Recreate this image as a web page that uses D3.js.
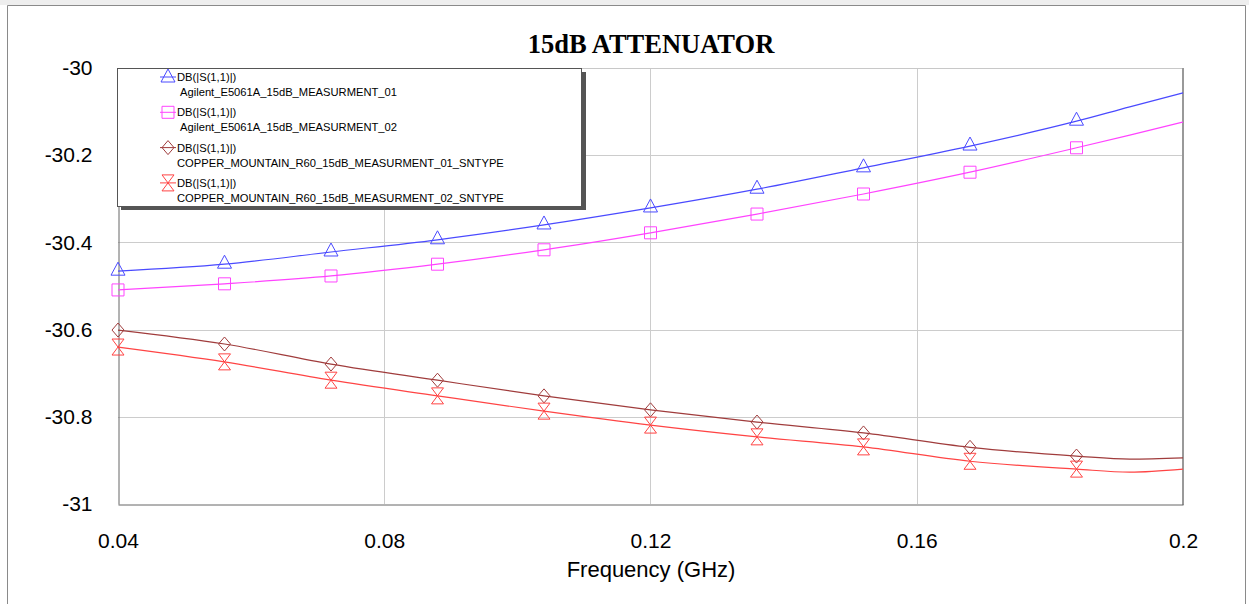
<!DOCTYPE html>
<html>
<head>
<meta charset="utf-8">
<script src="https://cdn.jsdelivr.net/npm/d3@7"></script>
<style>
  body { margin: 0; background: #fff; }
  svg { display: block; }
</style>
</head>
<body>
<div id="chart"></div>
<script>
// data (GHz / dB)
const freq = [0.04, 0.056, 0.072, 0.088, 0.104, 0.12, 0.136, 0.152, 0.168, 0.184, 0.192, 0.2];
const markerFreq = [0.04, 0.056, 0.072, 0.088, 0.104, 0.12, 0.136, 0.152, 0.168, 0.184];

const agilent01 = [-30.466, -30.450, -30.422, -30.394, -30.360, -30.321, -30.278, -30.229, -30.179, -30.122, -30.089, -30.057];
const agilent02 = [-30.509, -30.495, -30.477, -30.450, -30.417, -30.378, -30.335, -30.289, -30.239, -30.183, -30.154, -30.124];
const copper01  = [-30.601, -30.633, -30.679, -30.716, -30.752, -30.784, -30.812, -30.837, -30.870, -30.890, -30.897, -30.894];
const copper02  = [-30.640, -30.674, -30.716, -30.752, -30.787, -30.819, -30.846, -30.869, -30.902, -30.920, -30.927, -30.920];

const xTicks = [0.04, 0.08, 0.12, 0.16, 0.2];
const yTicks = [-30, -30.2, -30.4, -30.6, -30.8, -31];

const seriesNames = [
  'Agilent_E5061A_15dB_MEASURMENT_01',
  'Agilent_E5061A_15dB_MEASURMENT_02',
  'COPPER_MOUNTAIN_R60_15dB_MEASURMENT_01_SNTYPE',
  'COPPER_MOUNTAIN_R60_15dB_MEASURMENT_02_SNTYPE'
];

const series = [
  { name: seriesNames[0], values: agilent01, color: '#4a4aff', marker: 'triangle', indent: 3 },
  { name: seriesNames[1], values: agilent02, color: '#ff44ff', marker: 'square', indent: 3 },
  { name: seriesNames[2], values: copper01,  color: '#a03c3c', marker: 'diamond', indent: 0 },
  { name: seriesNames[3], values: copper02,  color: '#ff4444', marker: 'hourglass', indent: 0 }
];

const W = 1249, H = 604;
const plot = { left: 118, right: 1183, top: 68, bottom: 504 };
const sansFont = 'Liberation Sans, Arial, sans-serif';

const svg = d3.select('#chart').append('svg')
  .attr('width', W).attr('height', H);

// page frame
svg.append('rect').attr('x', 0).attr('y', 0).attr('width', W).attr('height', 5).attr('fill', '#eeeeee');
svg.append('path')
  .attr('d', `M7.5,${H} V5.5 H1245.5 V${H}`)
  .attr('fill', 'none').attr('stroke', '#8a8a8a').attr('stroke-width', 1);

const x = d3.scaleLinear().domain([0.04, 0.2]).range([plot.left, plot.right]);
const y = d3.scaleLinear().domain([-31, -30]).range([plot.bottom, plot.top]);

// grid
svg.append('g')
  .selectAll('line')
  .data(xTicks.slice(1, -1))
  .enter().append('line')
  .attr('x1', d => Math.round(x(d)) + 0.5).attr('x2', d => Math.round(x(d)) + 0.5)
  .attr('y1', plot.top).attr('y2', plot.bottom)
  .attr('stroke', '#cccccc');

svg.append('g')
  .selectAll('line')
  .data(yTicks.slice(1, -1))
  .enter().append('line')
  .attr('x1', plot.left).attr('x2', plot.right)
  .attr('y1', d => Math.round(y(d)) + 0.5).attr('y2', d => Math.round(y(d)) + 0.5)
  .attr('stroke', '#cccccc');

// plot frame
svg.append('line').attr('x1', plot.left).attr('x2', plot.right)
  .attr('y1', plot.top + 0.5).attr('y2', plot.top + 0.5).attr('stroke', '#c8c8c8');
svg.append('line').attr('x1', plot.right).attr('x2', plot.right)
  .attr('y1', plot.top).attr('y2', plot.bottom + 1).attr('stroke', '#999999').attr('stroke-width', 2);

// axes (plain hyphen for negatives, like the original)
const fmt = v => String(+v.toFixed(2));
const xAxis = svg.append('g')
  .attr('transform', `translate(0,${plot.bottom + 0.5})`)
  .call(d3.axisBottom(x).tickValues(xTicks).tickSize(0).tickPadding(25).tickFormat(fmt));
const yAxis = svg.append('g')
  .attr('transform', `translate(${plot.left + 0.5},0)`)
  .call(d3.axisLeft(y).tickValues(yTicks).tickSize(0).tickPadding(26).tickFormat(fmt));

svg.selectAll('.domain').attr('stroke', '#666666').attr('stroke-width', 1);
svg.selectAll('.tick text')
  .attr('fill', '#000')
  .style('font-family', sansFont)
  .style('font-size', '21px');
xAxis.selectAll('.tick text').attr('dy', '0.9em');

// lines
const line = d3.line()
  .x((d, i) => x(freq[i]))
  .y(d => y(d))
  .curve(d3.curveMonotoneX);

series.forEach(s => {
  svg.append('path')
    .datum(s.values)
    .attr('d', line)
    .attr('fill', 'none')
    .attr('stroke', s.color)
    .attr('stroke-width', 1.2);
});

// marker shapes
function markerPath(type, cx, cy) {
  switch (type) {
    case 'triangle':
      return `M${cx},${cy - 9} L${cx + 7},${cy + 4} L${cx - 7},${cy + 4} Z`;
    case 'square':
      return `M${cx - 6},${cy - 6} H${cx + 6} V${cy + 6} H${cx - 6} Z`;
    case 'diamond':
      return `M${cx},${cy - 7} L${cx + 6},${cy} L${cx},${cy + 7} L${cx - 6},${cy} Z`;
    case 'hourglass':
      return `M${cx - 6},${cy - 8} H${cx + 6} L${cx - 6},${cy + 8} H${cx + 6} Z`;
  }
}

series.forEach(s => {
  const pts = markerFreq.map(f => ({ f, v: s.values[freq.indexOf(f)] }));
  svg.append('g').selectAll('path')
    .data(pts)
    .enter().append('path')
    .attr('d', d => markerPath(s.marker, x(d.f), y(d.v)))
    .attr('fill', 'none')
    .attr('stroke', s.color)
    .attr('stroke-width', 1);
});

// legend
const legend = svg.append('g').attr('class', 'legend');
legend.append('rect')
  .attr('x', 121).attr('y', 72).attr('width', 465).attr('height', 138)
  .attr('fill', '#555555');
legend.append('rect')
  .attr('x', 117.5).attr('y', 68.5).attr('width', 464).attr('height', 138)
  .attr('fill', '#ffffff').attr('stroke', '#555555');

const items = legend.selectAll('.legend-item')
  .data(series)
  .enter().append('g')
  .attr('class', 'legend-item')
  .attr('transform', (d, i) => `translate(0,${77 + i * 35.3})`);

items.append('line')
  .attr('x1', 160).attr('x2', 176).attr('y1', 0).attr('y2', 0)
  .attr('stroke', d => d.color);
items.append('path')
  .attr('d', d => markerPath(d.marker, 168, d.marker === 'triangle' ? 1 : 0))
  .attr('fill', 'none')
  .attr('stroke', d => d.color);

items.append('text')
  .attr('x', 177).attr('y', 4)
  .style('font-family', sansFont)
  .style('font-size', '11.2px')
  .attr('fill', '#000')
  .text('DB(|S(1,1)|)');
items.append('text')
  .attr('x', d => 177 + d.indent).attr('y', 19)
  .style('font-family', sansFont)
  .style('font-size', '11.2px')
  .attr('fill', '#000')
  .text(d => d.name);

// title & axis label
svg.append('text')
  .attr('x', 651).attr('y', 53)
  .attr('text-anchor', 'middle')
  .style('font-family', 'Liberation Serif, Times New Roman, serif')
  .style('font-weight', 'bold')
  .style('font-size', '26.5px')
  .text('15dB ATTENUATOR');

svg.append('text')
  .attr('x', 651).attr('y', 577)
  .attr('text-anchor', 'middle')
  .style('font-family', sansFont)
  .style('font-size', '22px')
  .text('Frequency (GHz)');
</script>
</body>
</html>
